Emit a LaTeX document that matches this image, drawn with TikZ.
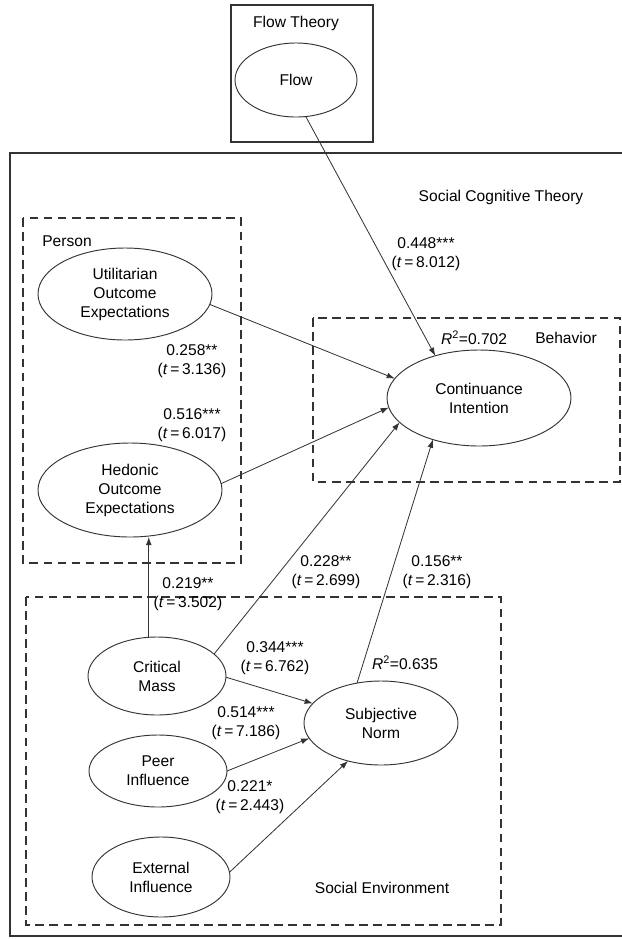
\documentclass[tikz,border=0pt]{standalone}
\usepackage{fontspec}
\setmainfont{Liberation Sans}
\usetikzlibrary{shapes.geometric, arrows.meta}

\begin{document}
\begin{tikzpicture}[x=0.03cm, y=-0.03cm,
	every node/.style={font=\fontsize{13.3}{16.2}\selectfont},
	construct/.style={ellipse, draw=linecol, line width=.8pt, inner sep=0pt, outer sep=0pt, align=center},
	coef/.style={align=center, inner sep=1pt},
	link/.style={draw=linecol, line width=.7pt, -{Latex[length=7pt, width=5pt]}},
	grpbox/.style={draw=linecol, line width=2pt, dash pattern=on 7.5pt off 4.5pt},
	]
	\definecolor{linecol}{gray}{.2}
	\useasboundingbox (0, 0) rectangle (622, 939);
	% theory frames and groups
	\draw[linecol, line width=1.8pt] (231, 5) rectangle (373, 142);
	\draw[linecol, line width=1.8pt] (622, 153) -- (10, 153) -- (10, 936) -- (622, 936);
	\draw[grpbox] (23, 218) rectangle (241, 563);
	\draw[grpbox] (313, 318) rectangle (620, 482);
	\draw[grpbox] (26, 597) rectangle (501, 925);
	\node (ft) at (296, 23) {Flow Theory};
	\node (sct) at (501, 197) {Social Cognitive Theory};
	\node (per) at (67, 241) {Person};
	\node (beh) at (566, 338) {Behavior};
	\node (se) at (382, 888) {Social Environment};
	
	% constructs
	\node[construct, minimum width=3.66cm, minimum height=2.22cm] (flow) at (296, 80) {Flow};
	\node[construct, minimum width=5.22cm, minimum height=2.76cm] (uoe) at (125, 294) {Utilitarian\\Outcome\\Expectations};
	\node[construct, minimum width=5.52cm, minimum height=2.82cm] (hoe) at (130, 490) {Hedonic\\Outcome\\Expectations};
	\node[construct, minimum width=5.52cm, minimum height=2.88cm] (ci) at (479, 398) {Continuance\\Intention};
	\node[construct, minimum width=4.14cm, minimum height=2.34cm] (cm) at (157, 676) {Critical\\Mass};
	\node[construct, minimum width=4.62cm, minimum height=2.52cm] (sn) at (381, 723) {Subjective\\Norm};
	\node[construct, minimum width=4.14cm, minimum height=2.16cm] (pi) at (158, 771) {Peer\\Influence};
	\node[construct, minimum width=4.14cm, minimum height=2.40cm] (ei) at (161, 877) {External\\Influence};
	\node (r2ci) at (474, 338) {\textit{R}\textsuperscript{2}=0.702};
	\node (r2sn) at (405, 663) {\textit{R}\textsuperscript{2}=0.635};
	
	% paths
	\draw[link] (flow.-75) -- (ci.136);
	\draw[link] (uoe.-7) -- (ci.167);
	\draw[link] (hoe.4) -- (ci.-174);
	\draw[link] (cm.21) -- (ci.-163);
	\draw[link] (sn.121) -- (ci.-138);
	\draw[link] (cm.102) -- (cm.102 |- hoe.south);
	\draw[link] (cm.-1) -- (sn.164);
	\draw[link] (pi.0) -- (sn.-168);
	\draw[link] (ei.4) -- (sn.-131);
	\node[coef] (c448) at (426, 254) {0.448***\\(\textit{t}\,=\,8.012)};
	\node[coef] (c258) at (192, 361) {0.258**\\(\textit{t}\,=\,3.136)};
	\node[coef] (c516) at (192, 425) {0.516***\\(\textit{t}\,=\,6.017)};
	\node[coef] (c228) at (326, 572) {0.228**\\(\textit{t}\,=\,2.699)};
	\node[coef] (c156) at (437, 572) {0.156**\\(\textit{t}\,=\,2.316)};
	\node[coef] (c219) at (188, 594) {0.219**\\(\textit{t}\,=\,3.502)};
	\node[coef] (c344) at (275, 658) {0.344***\\(\textit{t}\,=\,6.762)};
	\node[coef] (c514) at (246, 723) {0.514***\\(\textit{t}\,=\,7.186)};
	\node[coef] (c221) at (250, 797) {0.221*\\(\textit{t}\,=\,2.443)};
\end{tikzpicture}
\end{document}
